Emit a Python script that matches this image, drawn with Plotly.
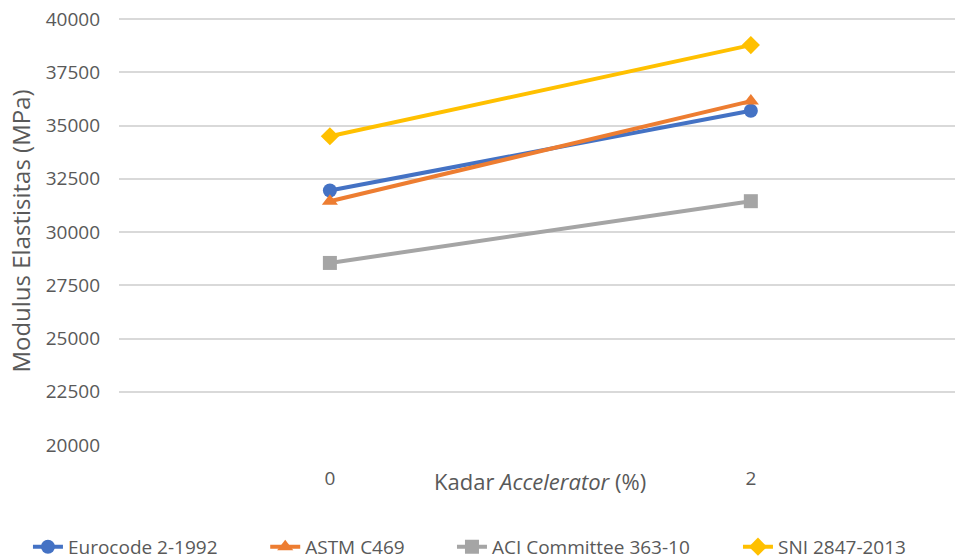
import plotly.graph_objects as go

categories = ["0", "2"]
eurocode = [31950, 35700]
astm = [31450, 36150]
aci = [28550, 31450]
sni = [34500, 38780]
y_ticks = [20000, 22500, 25000, 27500, 30000, 32500, 35000, 37500, 40000]
y_tick_text = [str(v) for v in y_ticks]

series = [
    ("Eurocode 2-1992", eurocode, "#4472C4", "circle"),
    ("ASTM C469", astm, "#ED7D31", "triangle-up"),
    ("ACI Committee 363-10", aci, "#A5A5A5", "square"),
    ("SNI 2847-2013", sni, "#FFC000", "diamond"),
]
legend_x = [-0.1089, 0.1749, 0.3983, 0.7404]
legend_ids = ["legend", "legend2", "legend3", "legend4"]

FONT = "Open Sans"
fig = go.Figure()
for (name, vals, color, sym), lid in zip(series, legend_ids):
    fig.add_trace(go.Scatter(
        x=categories, y=vals, name=name, mode="lines+markers",
        line=dict(color=color, width=4),
        marker=dict(symbol=sym, size=14, color=color),
        legend=lid,
    ))

legend_style = dict(orientation="h", xanchor="left", y=-0.238, yanchor="middle",
                    font=dict(size=19, color="#595959"), bgcolor="rgba(0,0,0,0)")
layout_legends = {lid: dict(x=lx, **legend_style) for lid, lx in zip(legend_ids, legend_x)}

fig.update_layout(
    width=955, height=560,
    margin=dict(l=119, r=0, t=17, b=115, autoexpand=False),
    paper_bgcolor="white", plot_bgcolor="white",
    font=dict(family=FONT, size=19, color="#595959"),
    showlegend=True,
    xaxis=dict(type="category", range=[-0.501, 1.485], showgrid=False, zeroline=False,
               showline=False, ticks="", ticklabelstandoff=20,
               tickfont=dict(size=19, color="#595959")),
    yaxis=dict(range=[20000, 40100], tickvals=y_ticks, ticktext=y_tick_text,
               showgrid=True, gridcolor="#D9D9D9", gridwidth=1.5,
               zeroline=False, showline=False,
               ticks="", ticklabelstandoff=18, ticklabeloverflow="allow",
               tickfont=dict(size=19, color="#595959"),
               title=dict(text="Modulus Elastisitas (MPa)", standoff=8,
                          font=dict(size=24, color="#595959"))),
    annotations=[dict(text="Kadar <i>Accelerator</i> (%)", x=0.5036, xref="paper",
                      y=-0.0845, yref="paper", yanchor="middle", xanchor="center",
                      showarrow=False,
                      font=dict(size=22, color="#595959"))],
    **layout_legends,
)
fig.write_html("out.html",
               config={"displayModeBar": False},
               post_script="document.body.style.margin='0';document.body.style.overflow='hidden';")
